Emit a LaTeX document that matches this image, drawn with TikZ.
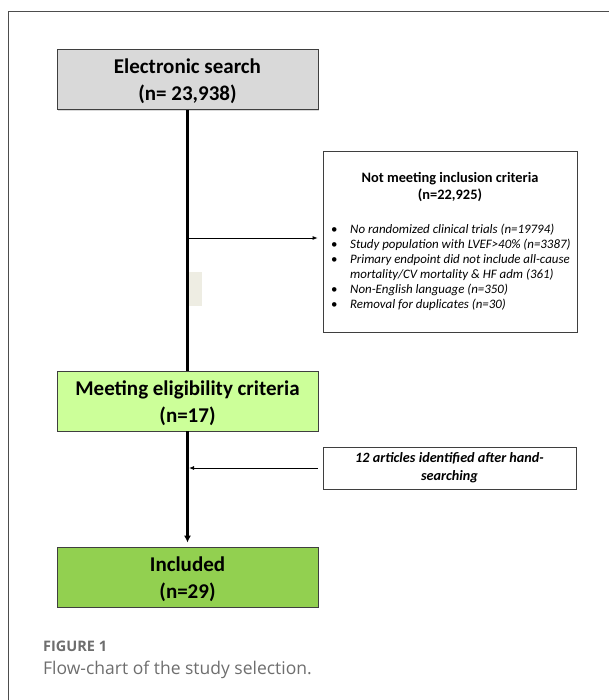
\documentclass[tikz,border=0pt]{standalone}
\usepackage{fontspec}
\setmainfont{Carlito}
\newfontfamily\capfont{Open Sans}
\usetikzlibrary{shadows,arrows.meta}
\definecolor{framegray}{HTML}{4D4D4D}
\definecolor{boxline}{HTML}{3F3F3F}
\definecolor{searchgray}{HTML}{D9D9D9}
\definecolor{eligiblegreen}{HTML}{CCFF99}
\definecolor{includedgreen}{HTML}{92D050}
\definecolor{capgray}{HTML}{6E6E6E}
\definecolor{smudge}{HTML}{EEEDE3}
\newcommand{\toprule}{\rule{0pt}{19pt}}
\tikzset{
  stagebox/.style = {
    draw=boxline, line width=0.8pt, inner sep=0pt,
    minimum width=261pt, minimum height=60pt, align=center,
    font=\bfseries\fontsize{21}{27}\selectfont,
    drop shadow={shadow xshift=1.2pt, shadow yshift=-1.2pt, opacity=0.3}
  },
  notebox/.style = {
    draw=boxline, fill=white, line width=0.8pt, inner sep=0pt,
    drop shadow={shadow xshift=1.2pt, shadow yshift=-1.2pt, opacity=0.3}
  },
  flow/.style = {line width=2.6pt},
  side/.style = {line width=0.8pt, ->}
}
\tikzset{>={Latex[length=5pt,width=4pt]}}

\begin{document}
\begin{tikzpicture}[x=1pt,y=-1pt]
  \useasboundingbox (0,0) rectangle (609,700);
  \draw[framegray,line width=1pt] (609,12) -- (8,12) -- (8,700);
  \fill[smudge] (189,272) rectangle (202,306);

  \node[stagebox,fill=searchgray] (search) at (187.5,79.5) {\toprule Electronic search\\(n= 23,938)};
  \node[stagebox,fill=eligiblegreen] (eligible) at (187.5,401) {\toprule Meeting eligibility criteria\\(n=17)};
  \node[stagebox,fill=includedgreen] (included) at (187.5,577) {\toprule Included\\(n=29)};

  \node[notebox,minimum width=254pt,minimum height=181pt] (excluded) at (450,241.5) {};
  \node[font=\bfseries\fontsize{14.4}{17}\selectfont,align=center,inner sep=0pt] (exctitle)
    at (450,187) {Not meeting inclusion criteria\\(n=22,925)};
  \node[anchor=north west,font=\itshape\fontsize{12.9}{15}\selectfont,align=left,inner sep=0pt] (reasons)
    at (331,224) {%
    \makebox[19pt][l]{\upshape\textbullet}No randomized clinical trials (n=19794)\\
    \makebox[19pt][l]{\upshape\textbullet}Study population with LVEF>40\% (n=3387)\\
    \makebox[19pt][l]{\upshape\textbullet}Primary endpoint did not include all-cause\\
    \hspace*{19pt}mortality/CV mortality \& HF adm (361)\\
    \makebox[19pt][l]{\upshape\textbullet}Non-English language (n=350)\\
    \makebox[19pt][l]{\upshape\textbullet}Removal for duplicates (n=30)};

  \node[notebox,minimum width=253pt,minimum height=42pt,align=center,
        font=\bfseries\itshape\fontsize{14.2}{18}\selectfont] (handsearch)
    at (449.5,468) {12 articles identified after hand-\\searching};

  % main flow
  \coordinate (split) at (187.5,238);
  \coordinate (merge) at (187.5,468);
  \draw[flow] (search) -- (eligible);
  \draw[flow,-{Latex[length=7pt,width=7pt]},shorten >=4pt] (eligible) -- (included);
  \draw[side,shorten >=5pt] (split) -- (excluded.west |- split);
  \draw[side,shorten <=5pt,shorten >=1.5pt] (handsearch.west) -- (merge);

  % caption
  \node[anchor=base west,inner sep=0pt,text=capgray,font=\capfont\bfseries\fontsize{14.5}{14.5}\selectfont] (figlabel)
    at (43,651) {FIGURE 1};
  \node[anchor=base west,inner sep=0pt,text=capgray,font=\capfont\fontsize{17.5}{17.5}\selectfont] (figtitle)
    at (43,674) {Flow-chart of the study selection.};
\end{tikzpicture}
\end{document}
